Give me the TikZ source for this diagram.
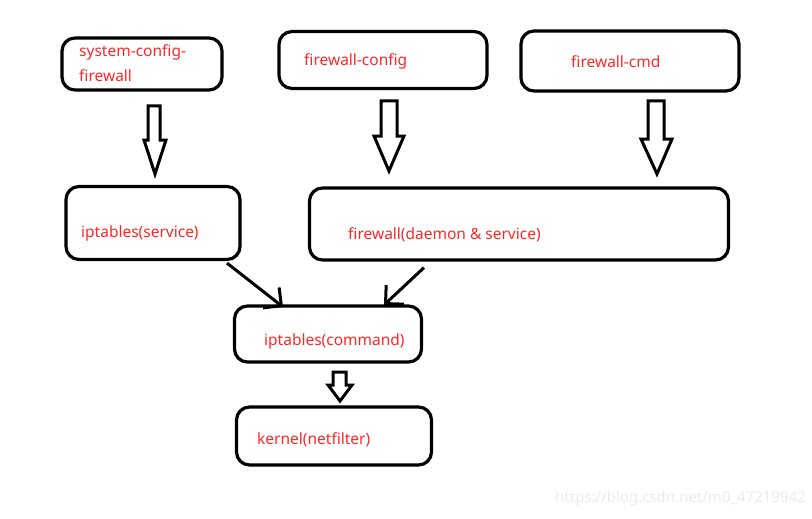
\documentclass[tikz,border=0pt]{standalone}
\usepackage{fontspec}
\setmainfont{Noto Sans}
\usepackage{tikz}
\usetikzlibrary{positioning,arrows.meta}

\tikzset{
  box/.style={draw, line width=3.2pt, rounded corners=13pt, inner sep=0pt},
  lbl/.style={text=red!85!white, font=\fontsize{15.5}{25}\selectfont, anchor=west, inner sep=0pt, align=left},
  blk/.style={draw, line width=3pt, fill=white, line join=miter},
  lnk/.style={line width=3pt, -{Straight Barb[length=13pt, width=26pt, line width=3pt]}}
}

\begin{document}
\begin{tikzpicture}[x=1pt, y=-1pt]
        \useasboundingbox (0,0) rectangle (812,519);

        % boxes
        \node[box, minimum width=160pt, minimum height=52pt] (sysconf) at (142,64) {};
        \node[box, minimum width=208pt, minimum height=57pt] (fwconf) at (383,60) {};
        \node[box, minimum width=218pt, minimum height=60pt] (fwcmd) at (630,61) {};
        \node[box, minimum width=174pt, minimum height=73pt] (iptserv) at (153,223) {};
        \node[box, minimum width=419pt, minimum height=72pt] (fwdaemon) at (519,224) {};
        \node[box, minimum width=187pt, minimum height=56pt] (iptcmd) at (328,334) {};
        \node[box, minimum width=195pt, minimum height=58pt] (kernel) at (334,436) {};

        % labels
        \node[lbl] (sysconf-t) at (79,63) {system-config-\\firewall};
        \node[lbl] (fwconf-t) at (304,61) {firewall-config};
        \node[lbl] (fwcmd-t) at (571,62) {firewall-cmd};
        \node[lbl] (iptserv-t) at (81,233) {iptables(service)};
        \node[lbl] (fwdaemon-t) at (348,235) {firewall(daemon \& service)};
        \node[lbl] (iptcmd-t) at (264,341) {iptables(command)};
        \node[lbl] (kernel-t) at (257,440) {kernel(netfilter)};

        % hollow arrows
        \draw[blk] (148,106) -- (160,106) -- (160,140) -- (166,140) -- (155,174) -- (144,140) -- (148,140) -- cycle;
        \draw[blk] (381,101) -- (397,101) -- (397,136) -- (404,136) -- (389,171) -- (374,136) -- (381,136) -- cycle;
        \draw[blk] (648,101) -- (664,101) -- (664,139) -- (672,139) -- (657,174) -- (641,139) -- (648,139) -- cycle;
        \draw[blk] (333,372) -- (346,372) -- (346,385) -- (352,385) -- (340,401) -- (328,385) -- (333,385) -- cycle;

        % links
        \coordinate (a1) at (283,307);
        \coordinate (a2) at (384,305);
        \draw[lnk] (iptserv.south) ++(74,2) -- (a1);
        \draw[lnk] (fwdaemon.south) ++(-95,6) -- (a2);

        % watermark
        \node[text=black!8, font=\fontsize{15}{15}\selectfont, anchor=east, inner sep=0pt] (wm) at (806,499) {https://blog.csdn.net/m0\_47219942};
      \end{tikzpicture}
\end{document}
